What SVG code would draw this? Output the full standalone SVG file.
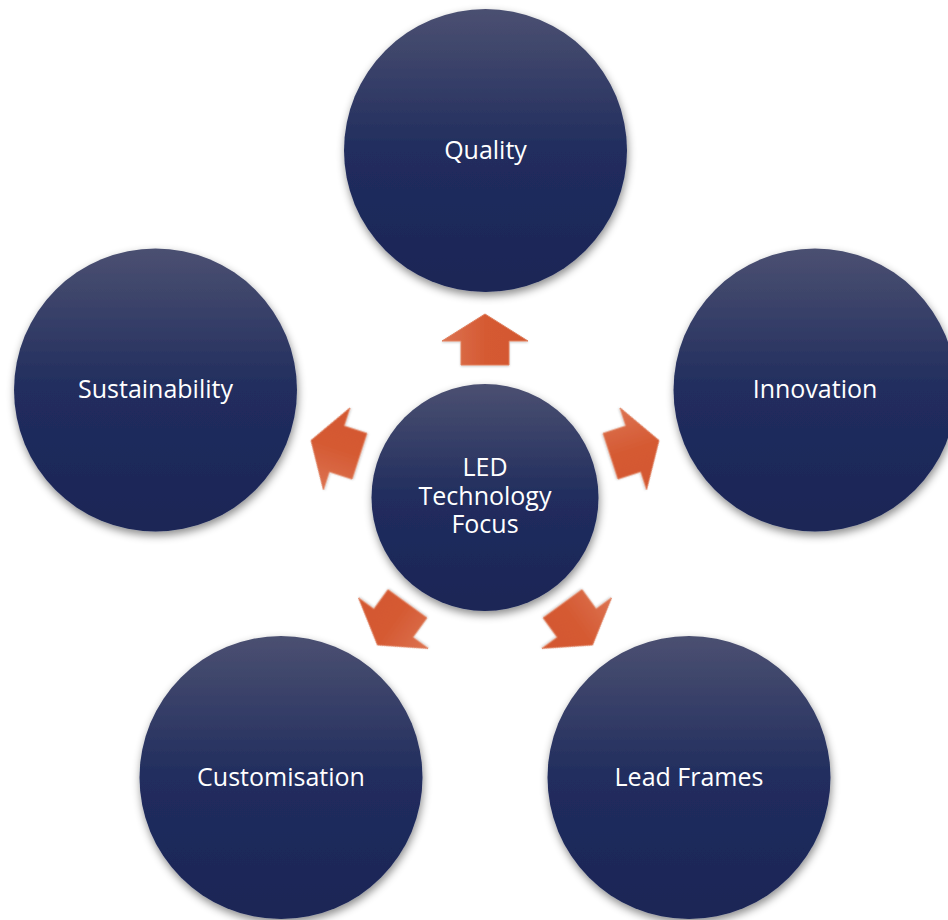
<svg xmlns="http://www.w3.org/2000/svg" width="948" height="920" viewBox="0 0 948 920">
<defs>
<linearGradient id="cg" x1="0" y1="0" x2="0" y2="1">
<stop offset="0" stop-color="#4b5071"/>
<stop offset="0.5" stop-color="#212d5e"/>
<stop offset="1" stop-color="#1a2556"/>
</linearGradient>
<linearGradient id="ag" x1="0" y1="0" x2="1" y2="0">
<stop offset="0" stop-color="#dc7352"/>
<stop offset="0.5" stop-color="#d55a33"/>
<stop offset="1" stop-color="#d3582f"/>
</linearGradient>
<filter id="sh" x="-20%" y="-20%" width="140%" height="145%">
<feDropShadow dx="1" dy="4" stdDeviation="4" flood-color="#000" flood-opacity="0.45"/>
</filter>
<filter id="ash" x="-20%" y="-20%" width="140%" height="140%">
<feDropShadow dx="0" dy="1" stdDeviation="1" flood-color="#000" flood-opacity="0.2"/>
</filter>
<path id="arrow" d="M485,314 L528,341 L509,341 L509,365 L461,365 L461,341 L442,341 Z"/>
</defs>
<style>
.c{fill:url(#cg);filter:url(#sh)}
.t{font-family:"Open Sans","Liberation Sans",sans-serif;font-size:25px;fill:#ffffff;text-anchor:middle}
.a{fill:url(#ag);stroke:#e0805f;stroke-width:1;stroke-linejoin:miter;filter:url(#ash)}
</style>
<rect width="948" height="920" fill="#ffffff"/>
<g id="connectors">
<use href="#arrow" class="a"/>
<use href="#arrow" class="a" transform="rotate(72 485 497)"/>
<use href="#arrow" class="a" transform="rotate(144 485 497)"/>
<use href="#arrow" class="a" transform="rotate(216 485 497)"/>
<use href="#arrow" class="a" transform="rotate(288 485 497)"/>
</g>
<g id="quality"><circle class="c" cx="485.5" cy="150.5" r="141.5"/><text class="t" x="485.5" y="159">Quality</text></g>
<g id="innovation"><circle class="c" cx="815" cy="390" r="141.5"/><text class="t" x="815" y="398">Innovation</text></g>
<g id="sustainability"><circle class="c" cx="155.5" cy="390" r="141.5"/><text class="t" x="155.5" y="398">Sustainability</text></g>
<g id="customisation"><circle class="c" cx="281" cy="777.5" r="141.5"/><text class="t" x="281" y="786">Customisation</text></g>
<g id="leadframes"><circle class="c" cx="689" cy="777.5" r="141.5"/><text class="t" x="689" y="786">Lead Frames</text></g>
<g id="center"><circle class="c" cx="485" cy="497.5" r="113.5"/>
<text class="t"><tspan x="485" y="476">LED</tspan><tspan x="485" y="505">Technology</tspan><tspan x="485" y="533">Focus</tspan></text></g>
</svg>
